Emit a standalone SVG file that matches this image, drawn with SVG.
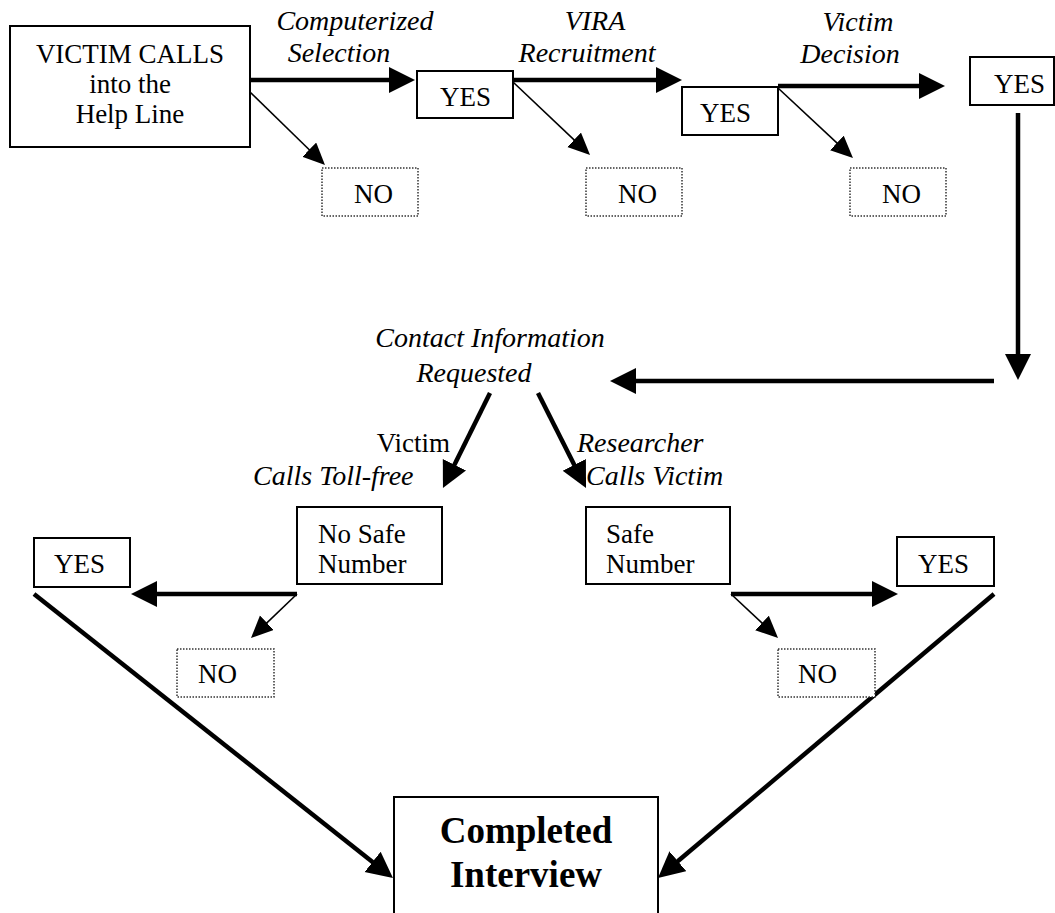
<svg xmlns="http://www.w3.org/2000/svg" width="1055" height="913" viewBox="0 0 1055 913">
<defs>
<style>
.box{fill:#fff;stroke:#000;stroke-width:2}
.no{fill:#fff;stroke:#333;stroke-width:1.5;stroke-dasharray:1.5 1.5}
.t{font-family:"Liberation Serif",serif;font-size:27px;fill:#000}
.i{font-family:"Liberation Serif",serif;font-size:28px;font-style:italic;fill:#000}
.b{font-family:"Liberation Serif",serif;font-size:37px;font-weight:bold;fill:#000}
.thick{stroke:#000;stroke-width:4.5;fill:none;marker-end:url(#big)}
.thin{stroke:#000;stroke-width:1.6;fill:none;marker-end:url(#small)}
</style>
<marker id="big" markerUnits="userSpaceOnUse" markerWidth="28" markerHeight="28" refX="4" refY="13" orient="auto"><path d="M0,0 L26,13 L0,26 z" fill="#000"/></marker>
<marker id="small" markerUnits="userSpaceOnUse" markerWidth="24" markerHeight="22" refX="4" refY="10" orient="auto"><path d="M0,0 L22,10 L0,20 z" fill="#000"/></marker>
</defs>
<rect width="1055" height="913" fill="#fff"/>

<g id="labels">
<text class="i" x="355" y="30" text-anchor="middle">Computerized</text>
<text class="i" x="339" y="62" text-anchor="middle">Selection</text>
<text class="i" x="595" y="30" text-anchor="middle">VIRA</text>
<text class="i" x="587" y="62" text-anchor="middle">Recruitment</text>
<text class="i" x="858" y="31" text-anchor="middle">Victim</text>
<text class="i" x="850" y="63" text-anchor="middle">Decision</text>
<text class="i" x="490" y="347" text-anchor="middle">Contact Information</text>
<text class="i" x="474" y="382" text-anchor="middle">Requested</text>
<text class="t" x="450" y="452" text-anchor="end">Victim</text>
<text class="i" x="253" y="485">Calls Toll-free</text>
<text class="i" x="577" y="452">Researcher</text>
<text class="i" x="586" y="485">Calls Victim</text>
</g>

<g id="connectors">
<line class="thick" x1="250" y1="80" x2="393" y2="80"/>
<line class="thin" x1="250" y1="92" x2="312.1" y2="152.5"/>
<line class="thick" x1="513" y1="80" x2="660" y2="80"/>
<line class="thin" x1="513" y1="82" x2="577" y2="142.6"/>
<line class="thick" x1="778" y1="86" x2="923" y2="86"/>
<line class="thin" x1="778" y1="88" x2="839.8" y2="145.7"/>
<line class="thick" x1="1018" y1="113" x2="1018" y2="358"/>
<line class="thick" x1="994" y1="381" x2="632" y2="381"/>
<line class="thick" x1="490" y1="393" x2="452.7" y2="468.3"/>
<line class="thick" x1="538" y1="393" x2="576.1" y2="468.4"/>
<line class="thick" x1="297" y1="594" x2="153" y2="594"/>
<line class="thin" x1="297" y1="594" x2="264" y2="625.6"/>
<line class="thick" x1="731" y1="594" x2="876" y2="594"/>
<line class="thin" x1="731" y1="594" x2="764.9" y2="625.7"/>
<line class="thick" x1="34" y1="594" x2="375.7" y2="864.4"/>
<line class="thick" x1="994" y1="594" x2="674.8" y2="863.8"/>
</g>

<g id="n-start">
<rect class="box" x="10" y="26" width="240" height="121"/>
<text class="t" x="130" y="63" text-anchor="middle">VICTIM CALLS</text>
<text class="t" x="130" y="93" text-anchor="middle">into the</text>
<text class="t" x="130" y="123" text-anchor="middle">Help Line</text>
</g>
<g id="n-yes1">
<rect class="box" x="417" y="71" width="96" height="47"/>
<text class="t" x="440" y="106">YES</text>
</g>
<g id="n-no1">
<rect class="no" x="322" y="168" width="96" height="48"/>
<text class="t" x="354" y="203">NO</text>
</g>
<g id="n-yes2">
<rect class="box" x="682" y="87" width="96" height="48"/>
<text class="t" x="700" y="122">YES</text>
</g>
<g id="n-no2">
<rect class="no" x="586" y="168" width="96" height="48"/>
<text class="t" x="618" y="203">NO</text>
</g>
<g id="n-yes3">
<rect class="box" x="970" y="57" width="84" height="48"/>
<text class="t" x="994" y="93">YES</text>
</g>
<g id="n-no3">
<rect class="no" x="850" y="168" width="96" height="48"/>
<text class="t" x="882" y="203">NO</text>
</g>
<g id="n-nosafe">
<rect class="box" x="297" y="507" width="145" height="77"/>
<text class="t" x="318" y="543">No Safe</text>
<text class="t" x="318" y="573">Number</text>
</g>
<g id="n-safe">
<rect class="box" x="586" y="507" width="144" height="77"/>
<text class="t" x="606" y="543">Safe</text>
<text class="t" x="606" y="573">Number</text>
</g>
<g id="n-yesleft">
<rect class="box" x="34" y="538" width="96" height="49"/>
<text class="t" x="54" y="573">YES</text>
</g>
<g id="n-noleft">
<rect class="no" x="177" y="649" width="97" height="48"/>
<text class="t" x="198" y="683">NO</text>
</g>
<g id="n-yesright">
<rect class="box" x="897" y="537" width="97" height="49"/>
<text class="t" x="918" y="573">YES</text>
</g>
<g id="n-noright">
<rect class="no" x="778" y="649" width="97" height="48"/>
<text class="t" x="798" y="683">NO</text>
</g>
<g id="n-complete">
<rect class="box" x="394" y="797" width="264" height="140"/>
<text class="b" x="526" y="843" text-anchor="middle">Completed</text>
<text class="b" x="526" y="887" text-anchor="middle">Interview</text>
</g>
</svg>
